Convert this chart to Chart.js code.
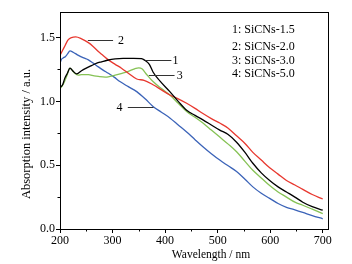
<!DOCTYPE html>
<html><head><meta charset="utf-8">
<script src="https://cdn.jsdelivr.net/npm/chart.js@4/dist/chart.umd.min.js"></script>
<style>html,body{margin:0;padding:0;background:#fff;overflow:hidden}</style>
</head><body>
<canvas id="c" width="352" height="264"></canvas>
<script>
// ---- data ----
const seriesLabels = ['1: SiCNs-1.5', '2: SiCNs-2.0', '3: SiCNs-3.0', '4: SiCNs-5.0'];
const curveTags = ['1', '2', '3', '4'];
const xTitle = 'Wavelength / nm';
const yTitle = 'Absorption intensity / a.u.';

const s1X = [200,205,209,214,219,225,232,241,250,260,270,279,290,305,320,340,355,362,370,377,390,409,425,441,457,472,488,504,520,536,552,567,583,599,615,631,647,662,680,700];
const s1Y = [1.11,1.13,1.18,1.22,1.26,1.235,1.215,1.24,1.26,1.28,1.30,1.31,1.322,1.333,1.337,1.337,1.335,1.32,1.29,1.23,1.16,1.076,1.0,0.93,0.89,0.855,0.815,0.775,0.74,0.68,0.60,0.515,0.44,0.38,0.33,0.29,0.25,0.21,0.175,0.147];

const s2X = [200,205,210,215,222,230,241,254,263,273,282,292,305,317,330,346,360,377,393,409,425,441,457,472,488,504,520,536,552,567,583,599,615,631,647,662,680,700];
const s2Y = [1.36,1.40,1.44,1.48,1.50,1.505,1.49,1.46,1.43,1.39,1.36,1.325,1.29,1.26,1.22,1.175,1.165,1.13,1.09,1.05,1.02,0.985,0.945,0.905,0.865,0.83,0.79,0.73,0.67,0.60,0.54,0.48,0.43,0.38,0.345,0.31,0.27,0.235];

const s3X = [200,204,208,213,219,224,228,235,241,254,265,273,286,295,305,318,330,342,350,356,365,377,393,409,425,441,457,472,488,504,520,536,552,567,583,599,615,631,647,662,680,700];
const s3Y = [1.10,1.12,1.15,1.20,1.26,1.24,1.22,1.205,1.21,1.21,1.20,1.195,1.19,1.195,1.205,1.22,1.235,1.255,1.262,1.255,1.21,1.155,1.10,1.05,0.985,0.92,0.875,0.83,0.775,0.72,0.665,0.605,0.53,0.46,0.40,0.34,0.29,0.25,0.21,0.186,0.155,0.12];

const s4X = [200,203,206,210,214,219,225,235,245,254,263,273,282,292,303,314,330,346,362,377,393,409,425,441,457,472,488,504,520,536,552,567,583,599,615,631,647,662,680,700];
const s4Y = [1.30,1.33,1.34,1.35,1.37,1.395,1.385,1.36,1.34,1.325,1.30,1.27,1.245,1.22,1.19,1.155,1.115,1.076,1.02,0.96,0.915,0.87,0.815,0.76,0.70,0.645,0.59,0.54,0.495,0.45,0.39,0.33,0.28,0.24,0.20,0.17,0.15,0.13,0.105,0.08];

const xTicks = [200, 300, 400, 500, 600, 700];
const xMinorTicks = [250, 350, 450, 550, 650];
const yTicks = [0.0, 0.5, 1.0, 1.5];
const yMinorTicks = [0.25, 0.75, 1.25];

// curve tag leader lines (data coordinates)
const tagLineX1 = [363, 253, 369, 329];
const tagLineX2 = [412, 301, 418, 378];
const tagLineY  = [1.323, 1.484, 1.208, 0.954];
const tagTextX  = [420, 316, 428, 313];

// ---- styling ----
const colors = ['#000000', '#e8382f', '#86c255', '#3b63b8'];
const FONT = 'Liberation Serif, Times New Roman, serif';
const font = {family: FONT, size: 12};

const xs = [s1X, s2X, s3X, s4X], ys = [s1Y, s2Y, s3Y, s4Y];
const datasets = seriesLabels.map((l, i) => ({
  label: l,
  data: xs[i].map((x, j) => ({x: x, y: ys[i][j]})),
  borderColor: colors[i],
  backgroundColor: colors[i],
  borderWidth: 1.3,
  pointRadius: 0,
  cubicInterpolationMode: 'monotone',
  fill: false
}));

const decorPlugin = {
  id: 'decor',
  afterDraw(chart) {
    const {ctx, chartArea: a, scales: {x, y}} = chart;
    ctx.save();
    // frame
    ctx.strokeStyle = '#000'; ctx.lineWidth = 1;
    ctx.strokeRect(Math.round(a.left) + 0.5, Math.round(a.top) + 0.5, Math.round(a.right - a.left), Math.round(a.bottom - a.top));
    // minor ticks
    ctx.beginPath();
    xMinorTicks.forEach(v => { const px = Math.round(x.getPixelForValue(v)) + 0.5; ctx.moveTo(px, a.bottom); ctx.lineTo(px, a.bottom + 2.5); });
    yMinorTicks.forEach(v => { const py = Math.round(y.getPixelForValue(v)) + 0.5; ctx.moveTo(a.left, py); ctx.lineTo(a.left - 2.5, py); });
    ctx.stroke();
    // curve tags with leader lines
    ctx.strokeStyle = '#333'; ctx.fillStyle = '#000';
    ctx.font = '12px ' + FONT; ctx.textAlign = 'center'; ctx.textBaseline = 'middle';
    curveTags.forEach((t, i) => {
      const py = Math.round(y.getPixelForValue(tagLineY[i])) + 0.5;
      ctx.beginPath();
      ctx.moveTo(x.getPixelForValue(tagLineX1[i]), py);
      ctx.lineTo(x.getPixelForValue(tagLineX2[i]), py);
      ctx.stroke();
      ctx.fillText(t, x.getPixelForValue(tagTextX[i]), py);
    });
    // legend text
    ctx.textAlign = 'left';
    const ly = [30, 47, 61, 74];
    seriesLabels.forEach((l, i) => ctx.fillText(l, a.right - 96, ly[i]));
    // axis titles
    ctx.textAlign = 'center';
    ctx.font = '11.5px ' + FONT;
    ctx.fillText(xTitle, a.left + 151, 255);
    ctx.save();
    ctx.translate(27, a.top + 122);
    ctx.rotate(-Math.PI / 2);
    ctx.font = '12.5px ' + FONT;
    ctx.fillText(yTitle, 0, 0);
    ctx.restore();
    ctx.restore();
  }
};

new Chart(document.getElementById('c'), {
  type: 'line',
  data: {datasets},
  options: {
    responsive: false,
    animation: false,
    layout: {padding: {top: 12, right: 24, left: 0, bottom: 0}},
    plugins: {legend: {display: false}, tooltip: {enabled: false}},
    scales: {
      x: {
        type: 'linear', min: 200, max: 710,
        afterBuildTicks: s => { s.ticks = xTicks.map(v => ({value: v})); },
        afterFit: s => { s.height = 35; },
        ticks: {font, color: '#000', padding: 1, maxRotation: 0, autoSkip: false, callback: v => String(v)},
        grid: {drawOnChartArea: false, drawTicks: true, tickLength: 4, color: '#000', lineWidth: 1},
        border: {display: true, color: '#000', width: 1},
        title: {display: false}
      },
      y: {
        type: 'linear', min: 0, max: 1.7,
        afterBuildTicks: s => { s.ticks = yTicks.map(v => ({value: v})); },
        afterFit: s => { s.width = 60; },
        ticks: {font, color: '#000', padding: 1, callback: v => Number(v).toFixed(1)},
        grid: {drawOnChartArea: false, drawTicks: true, tickLength: 4, color: '#000', lineWidth: 1},
        border: {display: true, color: '#000', width: 1},
        title: {display: false}
      }
    }
  },
  plugins: [decorPlugin]
});
</script>
</body></html>
